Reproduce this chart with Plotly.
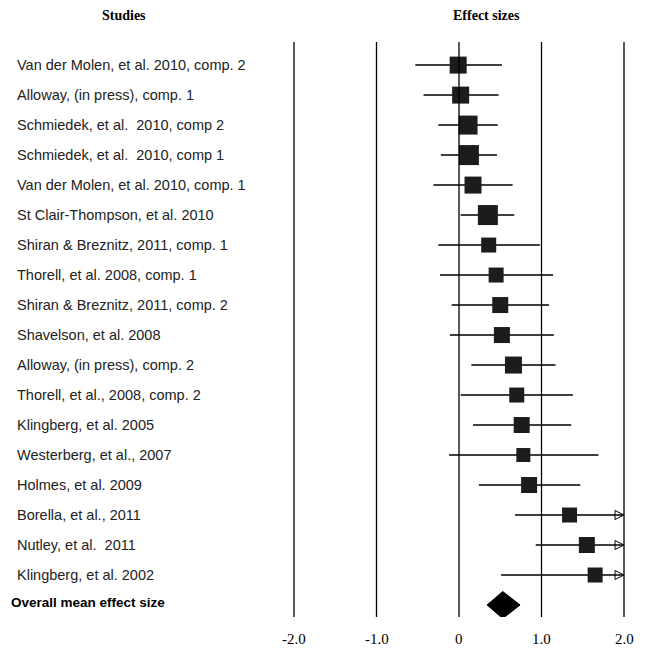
import plotly.graph_objects as go

studies = ["Van der Molen, et al. 2010, comp. 2", "Alloway, (in press), comp. 1",
    "Schmiedek, et al.  2010, comp 2", "Schmiedek, et al.  2010, comp 1",
    "Van der Molen, et al. 2010, comp. 1", "St Clair-Thompson, et al. 2010",
    "Shiran & Breznitz, 2011, comp. 1", "Thorell, et al. 2008, comp. 1",
    "Shiran & Breznitz, 2011, comp. 2", "Shavelson, et al. 2008",
    "Alloway, (in press), comp. 2", "Thorell, et al., 2008, comp. 2",
    "Klingberg, et al. 2005", "Westerberg, et al., 2007", "Holmes, et al. 2009",
    "Borella, et al., 2011", "Nutley, et al.  2011", "Klingberg, et al. 2002"]
effect = [-0.01, 0.02, 0.11, 0.12, 0.17, 0.35, 0.36, 0.45, 0.50, 0.52, 0.66, 0.70, 0.76, 0.78, 0.85, 1.34, 1.55, 1.65]
lower = [-0.53, -0.43, -0.25, -0.22, -0.31, 0.02, -0.25, -0.23, -0.09, -0.11, 0.15, 0.02, 0.17, -0.12, 0.24, 0.68, 0.93, 0.51]
upper = [0.52, 0.48, 0.47, 0.46, 0.65, 0.67, 0.98, 1.14, 1.09, 1.15, 1.17, 1.38, 1.36, 1.69, 1.47, 2.0, 2.0, 2.0]
weight = [17, 17, 19, 20, 17, 20, 15, 15, 16, 16, 17, 15, 16, 14, 16, 15, 16, 15]
overall = 0.53
overall_lo, overall_hi = 0.34, 0.74
ticks = [-2, -1, 0, 1, 2]
tick_labels = ["-2.0", "-1.0", "0", "1.0", "2.0"]

L, T, W, H = 278, 34, 346, 575
fig = go.Figure()
for t in ticks:
    fig.add_shape(type="line", x0=t, x1=t, y0=0, y1=1, xref="x", yref="paper",
                  line=dict(color="black", width=1.3))
n = len(studies)
for i in range(n):
    fig.add_trace(go.Scatter(x=[lower[i], upper[i]], y=[i, i], mode="lines",
                             line=dict(color="black", width=1.5), hoverinfo="skip"))
fig.add_trace(go.Scatter(x=effect, y=list(range(n)), mode="markers",
                         marker=dict(symbol="square", size=weight, color="#1c1c1c", opacity=1,
                                     line=dict(width=0))))
arr = [i for i in range(n) if upper[i] >= 2.0]
fig.add_trace(go.Scatter(x=[upper[i] for i in arr], y=arr, mode="markers",
                         marker=dict(symbol="arrow-right-open", size=9, color="black",
                                     line=dict(width=1, color="black"))))
fig.add_trace(go.Scatter(x=[overall_lo, overall, overall_hi, overall, overall_lo],
                         y=[n, n - 0.45, n, n + 0.45, n], fill="toself", mode="lines",
                         fillcolor="black", line=dict(color="black", width=1)))

def px(xpix):
    return (xpix - 8 - L) / W

for i, s in enumerate(studies):
    fig.add_annotation(x=px(15), xref="paper", y=i, yref="y", text=s, showarrow=False,
                       xanchor="left", font=dict(family="Liberation Sans", size=14.5, color="#222"))
fig.add_annotation(x=px(9), xref="paper", y=n - 0.1, yref="y", text="<b>Overall mean effect size</b>",
                   showarrow=False, xanchor="left", font=dict(family="Liberation Sans", size=13.5, color="black"))
for t, l in zip(ticks, tick_labels):
    fig.add_annotation(x=t, xref="x", y=-0.056, yref="paper", text=l, showarrow=False,
                       font=dict(family="Liberation Serif", size=15, color="black"))
fig.add_annotation(x=px(100), xref="paper", y=1 + 36 / H, yref="paper", text="<b>Studies</b>",
                   showarrow=False, font=dict(family="Liberation Serif", size=14, color="black"))
fig.add_annotation(x=px(486), xref="paper", y=1 + 36 / H, yref="paper", text="<b>Effect sizes</b>",
                   showarrow=False, font=dict(family="Liberation Serif", size=14, color="black"))

fig.update_layout(
    width=652, height=657, showlegend=False, plot_bgcolor="white", paper_bgcolor="white",
    margin=dict(l=L, r=652 - L - W, t=T, b=657 - T - H),
    xaxis=dict(range=[-2.097, 2.097], visible=False, fixedrange=True),
    yaxis=dict(range=[18.4, -0.77], visible=False),
)
fig.write_html("out.html")
